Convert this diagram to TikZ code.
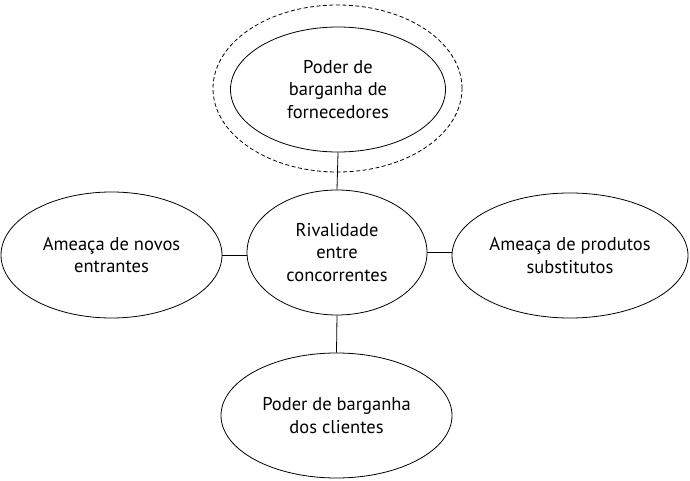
\documentclass[tikz,border=0pt]{standalone}
\usepackage{fontspec}
\setmainfont{PT Sans}
\usetikzlibrary{shapes.geometric}
\begin{document}
\begin{tikzpicture}[x=1pt,y=-1pt,
  oval/.style={draw, ellipse, line width=0.8pt, inner sep=0pt, align=center, font=\fontsize{18.5}{22.5}\selectfont},
  link/.style={draw, line width=0.8pt}]
\useasboundingbox (0,0) rectangle (690,481);
\node[oval, dashed, dash pattern=on 4pt off 2.5pt, minimum width=249pt, minimum height=167pt] (outer) at (337.5,88.5) {};
\node[oval, minimum width=215pt, minimum height=125pt] (top) at (338,89.5) {Poder de\\barganha de\\fornecedores};
\node[oval, minimum width=180pt, minimum height=125pt] (mid) at (337,252.5) {Rivalidade\\entre\\concorrentes};
\node[oval, minimum width=221pt, minimum height=126pt] (left) at (111.5,255) {Ameaça de novos\\entrantes};
\node[oval, minimum width=236pt, minimum height=125pt] (right) at (570,255.5) {Ameaça de produtos\\substitutos};
\node[oval, minimum width=231pt, minimum height=125pt] (bot) at (336.5,415.5) {Poder de barganha\\dos clientes};
\draw[link] (top.south) -- (mid.north);
\draw[link] (mid.south) -- (bot.north);
\draw[link] (left.east) -- (left.east -| mid.west);
\draw[link] (mid.east) -- (mid.east -| right.west);
\end{tikzpicture}
\end{document}
